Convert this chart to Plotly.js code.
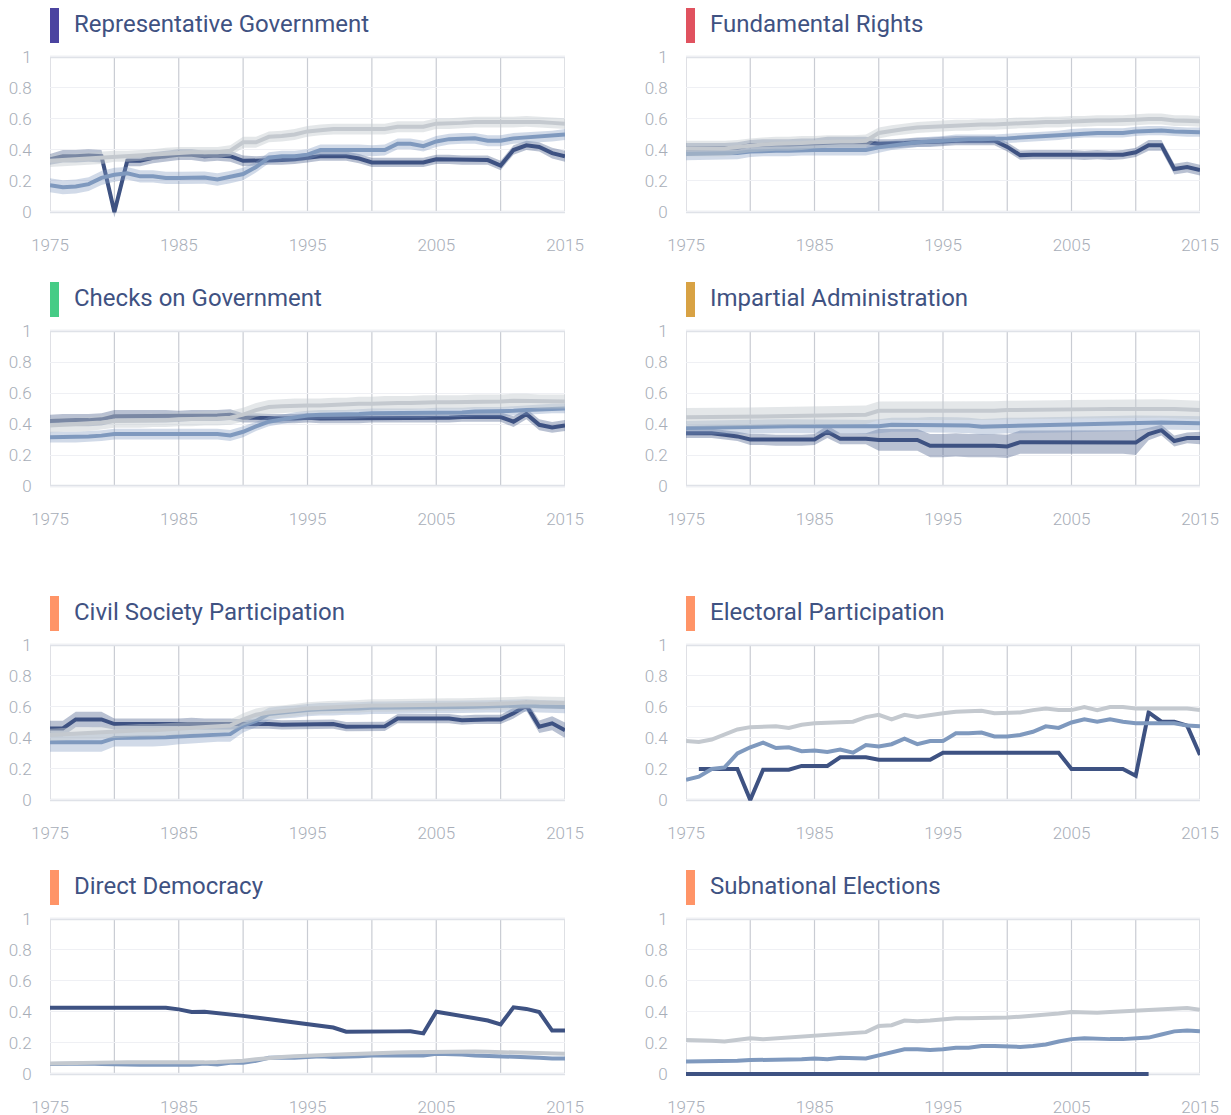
<!DOCTYPE html>
<html><head><meta charset="utf-8">
<script src="https://cdn.plot.ly/plotly-3.0.1.min.js"></script>
<style>html,body{margin:0;padding:0;background:#fff}#chart{width:1231px;height:1115px}</style>
</head><body><div id="chart"></div>
<script>
const years=[1975,1976,1977,1978,1979,1980,1981,1982,1983,1984,1985,1986,1987,1988,1989,1990,1991,1992,1993,1994,1995,1996,1997,1998,1999,2000,2001,2002,2003,2004,2005,2006,2007,2008,2009,2010,2011,2012,2013,2014,2015];
const xTickVals=[1975,1985,1995,2005,2015];
const gridYears=[1975,1980,1985,1990,1995,2000,2005,2010,2015];
const yTickVals=[0,0.2,0.4,0.6,0.8,1];
const yTickText=['0','0.2','0.4','0.6','0.8','1'];
const titles=['Representative Government','Fundamental Rights','Checks on Government','Impartial Administration','Civil Society Participation','Electoral Participation','Direct Democracy','Subnational Elections'];
const titleColors=['#4b44a0','#e0525f','#46cc86','#d8a244','#ff9467','#ff9467','#ff9467','#ff9467'];

// Representative Government
const repC=[.34,.36,.36,.365,.36,.00,.33,.33,.35,.36,.37,.37,.36,.365,.36,.33,.33,.335,.335,.34,.35,.36,.36,.36,.345,.32,.32,.32,.32,.32,.34,.34,.335,.335,.335,.30,.40,.43,.42,.38,.36];
const repR=[.173,.16,.165,.18,.22,.24,.25,.23,.23,.22,.22,.22,.222,.21,.225,.245,.29,.35,.36,.36,.37,.40,.40,.40,.40,.395,.40,.44,.44,.425,.455,.47,.475,.475,.46,.46,.475,.48,.485,.49,.50];
const repW=[.33,.335,.34,.345,.35,.36,.36,.365,.37,.38,.385,.385,.385,.385,.395,.45,.45,.485,.49,.50,.52,.53,.535,.535,.535,.535,.535,.55,.55,.55,.57,.57,.575,.58,.58,.58,.58,.585,.58,.575,.57];
const repCb=[.035,.04,.04,.04,.04,.035,.035,.035,.035,.035,.035,.035,.035,.035,.035,.035,.03,.03,.03,.03,.03,.03,.03,.03,.03,.03,.03,.03,.03,.03,.03,.03,.03,.03,.03,.03,.03,.03,.03,.035,.035];
const repRb=[.045,.045,.045,.045,.045,.045,.04,.04,.04,.04,.04,.04,.04,.04,.04,.04,.035,.035,.035,.035,.035,.035,.035,.035,.035,.035,.035,.035,.035,.035,.035,.035,.035,.035,.035,.035,.035,.035,.035,.035,.035];
const repWb=[.04,.04,.04,.04,.04,.035,.035,.035,.035,.035,.035,.035,.035,.035,.035,.035,.035,.035,.035,.035,.035,.035,.035,.035,.035,.035,.035,.035,.035,.035,.035,.035,.035,.035,.035,.035,.035,.035,.035,.035,.035];

// Fundamental Rights
const frC=[.41,.41,.41,.41,.415,.43,.435,.435,.435,.44,.44,.45,.45,.45,.45,.44,.44,.445,.45,.45,.455,.46,.46,.46,.46,.42,.367,.37,.37,.37,.37,.365,.37,.365,.37,.385,.43,.43,.277,.29,.27];
const frR=[.374,.375,.375,.375,.38,.39,.395,.395,.395,.40,.40,.40,.40,.40,.40,.417,.43,.44,.45,.455,.46,.47,.47,.47,.47,.475,.48,.485,.49,.495,.505,.51,.51,.51,.51,.52,.525,.525,.52,.515,.515];
const frW=[.41,.41,.41,.41,.42,.43,.435,.44,.44,.445,.45,.455,.455,.455,.46,.51,.525,.535,.545,.55,.555,.56,.56,.565,.565,.57,.575,.575,.58,.58,.585,.585,.59,.59,.59,.595,.60,.60,.59,.59,.585];
const frCb=[.035,.035,.035,.035,.035,.035,.035,.035,.035,.035,.035,.035,.035,.035,.035,.03,.03,.03,.03,.03,.03,.03,.03,.03,.03,.03,.03,.03,.03,.03,.03,.03,.03,.03,.03,.03,.035,.035,.035,.035,.035];
const frRb=[.04,.04,.04,.04,.04,.035,.035,.035,.035,.035,.035,.035,.035,.035,.035,.035,.03,.03,.03,.03,.03,.03,.03,.03,.03,.03,.03,.03,.03,.03,.03,.03,.03,.03,.03,.03,.03,.03,.03,.03,.03];
const frWb=[.05,.05,.05,.05,.045,.045,.045,.045,.045,.045,.04,.04,.04,.04,.04,.035,.035,.035,.035,.035,.035,.035,.035,.035,.035,.035,.035,.035,.035,.035,.035,.035,.035,.035,.035,.035,.035,.035,.035,.035,.035];

// Checks on Government
const cgC=[.42,.425,.425,.425,.43,.45,.45,.45,.45,.45,.45,.455,.455,.455,.46,.44,.44,.435,.435,.435,.44,.435,.435,.435,.435,.44,.44,.44,.44,.44,.44,.44,.445,.445,.445,.445,.415,.465,.395,.378,.39];
const cgR=[.315,.315,.315,.32,.325,.335,.335,.335,.333,.333,.333,.335,.335,.335,.326,.35,.385,.415,.43,.445,.455,.46,.46,.46,.465,.47,.47,.47,.47,.47,.475,.475,.475,.48,.48,.48,.485,.49,.495,.50,.50];
const cgW=[.39,.395,.395,.40,.41,.42,.42,.42,.425,.425,.43,.43,.435,.435,.44,.46,.49,.51,.515,.52,.52,.52,.525,.525,.53,.53,.535,.535,.535,.54,.54,.54,.54,.545,.545,.545,.55,.55,.545,.545,.545];
const cgCb=[.04,.04,.04,.04,.04,.04,.04,.04,.04,.04,.035,.035,.035,.035,.035,.03,.03,.03,.03,.03,.03,.03,.03,.03,.03,.03,.03,.03,.03,.03,.03,.03,.03,.03,.03,.03,.035,.035,.035,.035,.035];
const cgRb=[.035,.035,.035,.035,.035,.035,.035,.035,.035,.035,.035,.035,.035,.035,.035,.035,.03,.03,.03,.03,.03,.03,.03,.03,.03,.03,.03,.03,.03,.03,.03,.03,.03,.03,.03,.03,.03,.03,.03,.03,.03];
const cgWb=[.045,.045,.045,.045,.045,.045,.045,.045,.045,.045,.045,.045,.045,.045,.045,.045,.045,.045,.045,.045,.045,.045,.045,.045,.045,.045,.045,.045,.045,.045,.045,.045,.045,.045,.045,.045,.045,.045,.045,.045,.045];

// Impartial Administration
const iaC=[.34,.34,.34,.33,.32,.30,.30,.295,.295,.295,.30,.35,.305,.305,.305,.297,.297,.297,.297,.26,.26,.265,.26,.26,.26,.255,.283,.283,.283,.283,.283,.283,.283,.283,.283,.28,.335,.36,.29,.31,.31];
const iaR=[.374,.376,.378,.38,.382,.385,.385,.385,.385,.385,.385,.385,.385,.383,.38,.385,.395,.395,.395,.395,.395,.393,.39,.383,.385,.39,.39,.392,.394,.396,.40,.402,.402,.403,.404,.405,.41,.41,.408,.406,.405];
const iaW=[.443,.443,.443,.444,.445,.447,.448,.45,.452,.454,.456,.458,.46,.46,.46,.485,.485,.485,.485,.485,.485,.485,.483,.482,.486,.49,.49,.492,.493,.494,.495,.496,.496,.497,.498,.50,.50,.50,.497,.494,.49];
const iaCb=[.03,.03,.03,.03,.03,.035,.035,.035,.035,.035,.035,.04,.035,.035,.035,.07,.07,.07,.07,.075,.075,.075,.075,.075,.075,.075,.075,.075,.075,.075,.075,.075,.075,.075,.075,.08,.04,.035,.035,.035,.04];
const iaRb=[.045,.045,.045,.045,.045,.045,.045,.045,.045,.045,.045,.045,.045,.045,.045,.045,.045,.045,.045,.05,.05,.05,.05,.05,.05,.05,.05,.05,.05,.05,.05,.05,.05,.05,.05,.05,.045,.045,.045,.045,.045];
const iaWb=[.06,.06,.06,.06,.06,.06,.06,.06,.06,.06,.06,.06,.06,.06,.06,.06,.06,.06,.06,.06,.06,.06,.06,.06,.06,.06,.06,.06,.06,.06,.06,.06,.06,.06,.06,.06,.06,.06,.06,.06,.06];

// Civil Society Participation
const csC=[.462,.462,.52,.52,.52,.49,.49,.49,.49,.49,.49,.495,.49,.49,.49,.49,.49,.49,.485,.487,.49,.49,.49,.473,.473,.475,.475,.525,.525,.525,.525,.525,.515,.52,.52,.52,.56,.61,.473,.495,.45];
const csR=[.372,.372,.372,.372,.372,.40,.40,.40,.40,.405,.41,.415,.42,.425,.425,.48,.51,.555,.565,.57,.58,.585,.585,.59,.59,.595,.595,.597,.598,.60,.60,.60,.60,.602,.604,.605,.608,.61,.605,.602,.60];
const csW=[.42,.425,.43,.43,.435,.44,.445,.45,.45,.455,.46,.465,.47,.475,.48,.52,.55,.565,.57,.58,.59,.595,.60,.60,.605,.61,.61,.612,.613,.614,.615,.616,.617,.618,.619,.62,.625,.63,.628,.626,.625];
const csCb=[.05,.05,.05,.05,.05,.035,.035,.035,.035,.035,.035,.035,.035,.035,.035,.03,.03,.03,.03,.03,.03,.03,.03,.03,.03,.03,.03,.03,.03,.03,.03,.03,.03,.03,.03,.03,.035,.035,.04,.045,.05];
const csRb=[.06,.06,.06,.06,.06,.055,.055,.055,.055,.055,.05,.05,.05,.05,.05,.045,.04,.04,.04,.04,.04,.04,.04,.04,.04,.04,.04,.04,.04,.04,.04,.04,.04,.04,.04,.04,.04,.04,.04,.04,.04];
const csWb=[.04,.04,.04,.04,.04,.04,.04,.04,.04,.04,.04,.04,.04,.04,.04,.04,.04,.04,.04,.04,.04,.04,.04,.04,.04,.04,.04,.04,.04,.04,.04,.04,.04,.04,.04,.04,.04,.04,.04,.04,.04];

// Electoral Participation
const epC=[null,.20,.20,.20,.20,.00,.195,.195,.195,.22,.22,.22,.275,.275,.275,.26,.26,.26,.26,.26,.305,.305,.305,.305,.305,.305,.305,.305,.305,.305,.20,.20,.20,.20,.20,.157,.565,.505,.505,.48,.29];
const epR=[.13,.15,.20,.21,.30,.34,.37,.335,.34,.315,.32,.31,.325,.305,.355,.345,.36,.395,.36,.38,.38,.43,.43,.435,.41,.41,.42,.44,.475,.465,.50,.52,.505,.52,.505,.495,.495,.495,.495,.48,.475];
const epW=[.38,.375,.39,.425,.455,.47,.475,.475,.465,.485,.495,.50,.505,.505,.535,.55,.52,.55,.535,.55,.56,.57,.575,.575,.56,.565,.565,.58,.59,.58,.58,.60,.58,.60,.60,.59,.59,.59,.59,.59,.58];

// Direct Democracy
const ddC=[.428,.428,.428,.428,.428,.428,.428,.428,.428,.428,.417,.40,.402,.395,.385,.375,.365,.355,.345,.335,.325,.315,.30,.273,.275,.275,.275,.275,.275,.262,.402,.39,.375,.36,.345,.32,.43,.42,.40,.28,.28];
const ddR=[.065,.066,.07,.068,.065,.062,.062,.06,.06,.059,.058,.06,.068,.062,.072,.072,.085,.105,.107,.105,.11,.115,.11,.11,.115,.12,.12,.12,.12,.12,.13,.13,.125,.12,.118,.115,.113,.11,.105,.10,.10];
const ddW=[.068,.07,.075,.075,.075,.075,.075,.074,.073,.072,.072,.073,.075,.077,.08,.085,.095,.105,.11,.115,.12,.122,.125,.128,.132,.135,.137,.138,.14,.142,.145,.145,.145,.145,.143,.14,.14,.138,.135,.132,.13];

// Subnational Elections
const seC=[0,0,0,0,0,0,0,0,0,0,0,0,0,0,0,0,0,0,0,0,0,0,0,0,0,0,0,0,0,0,0,0,0,0,0,0,0,null,null,null,null];
const seR=[.08,.08,.08,.08,.085,.09,.09,.09,.095,.095,.10,.095,.105,.105,.10,.12,.14,.16,.16,.155,.16,.17,.17,.18,.18,.175,.175,.18,.19,.21,.225,.23,.225,.225,.225,.23,.235,.255,.275,.28,.275];
const seW=[.22,.22,.215,.21,.22,.23,.225,.23,.24,.24,.25,.25,.26,.265,.27,.31,.315,.345,.34,.345,.355,.36,.36,.36,.36,.365,.37,.375,.38,.39,.40,.395,.395,.40,.405,.41,.41,.42,.42,.425,.415];

const panels=[
  {s:[repC,repR,repW],b:[repCb,repRb,repWb]},
  {s:[frC,frR,frW],b:[frCb,frRb,frWb]},
  {s:[cgC,cgR,cgW],b:[cgCb,cgRb,cgWb]},
  {s:[iaC,iaR,iaW],b:[iaCb,iaRb,iaWb]},
  {s:[csC,csR,csW],b:[csCb,csRb,csWb]},
  {s:[epC,epR,epW],b:null},
  {s:[ddC,ddR,ddW],b:null},
  {s:[seC,seR,seW],b:null}
];

const lineColors=['#3e5282','#7f99be','#c4c9cf'];
const bandColors=['rgba(62,82,130,0.36)','rgba(127,153,190,0.36)','rgba(196,201,207,0.45)'];

const W=1231,H=1115;
const colX=[[50,565],[686,1200]];
const rowTop=[57,331,645,919];
const unit=155;
const yLo=-0.04,yHi=1.015;
const titleY=[24,298,612,886];
const barY=[[8,43],[282,317],[596,631],[870,905]];

const traces=[];const layout={width:W,height:H,margin:{l:0,r:0,t:0,b:0},paper_bgcolor:'#fff',plot_bgcolor:'rgba(0,0,0,0)',showlegend:false,shapes:[],annotations:[],hovermode:false};
const tickFont={family:'Roboto, sans-serif',size:17,color:'#a8aeb8',weight:300};

panels.forEach((p,i)=>{
  const col=i%2,row=Math.floor(i/2);
  const n=i+1;const xa='x'+(n===1?'':n),ya='y'+(n===1?'':n);
  const xk='xaxis'+(n===1?'':n),yk='yaxis'+(n===1?'':n);
  const topPx=rowTop[row]-(yHi-1)*unit,botPx=rowTop[row]+unit-yLo*unit;
  layout[xk]={domain:[colX[col][0]/W,colX[col][1]/W],range:[1975,2015],anchor:ya,tickvals:xTickVals,ticktext:xTickVals.map(String),showgrid:false,zeroline:false,showline:false,ticks:'outside',ticklen:11,tickcolor:'rgba(0,0,0,0)',tickfont:tickFont,fixedrange:true};
  layout[yk]={domain:[1-botPx/H,1-topPx/H],range:[yLo,yHi],anchor:xa,tickvals:yTickVals,ticktext:yTickText,showgrid:true,gridcolor:'#eff0f4',gridwidth:1,zeroline:false,showline:false,ticks:'outside',ticklen:14,tickcolor:'rgba(0,0,0,0)',tickfont:tickFont,fixedrange:true};
  gridYears.forEach(g=>layout.shapes.push({type:'line',xref:xa,yref:ya,x0:g,x1:g,y0:0,y1:1,line:{color:'#c9ccd3',width:1.2},layer:'below'}));
  [0,1].forEach(v=>layout.shapes.push({type:'line',xref:xa,yref:ya,x0:1975,x1:2015,y0:v,y1:v,line:{color:'#dfe2e8',width:2.5},layer:'below'}));
  layout.shapes.push({type:'rect',xref:'paper',yref:'paper',x0:colX[col][0]/W,x1:(colX[col][0]+9)/W,y0:1-barY[row][1]/H,y1:1-barY[row][0]/H,fillcolor:titleColors[i],line:{width:0}});
  layout.annotations.push({xref:'paper',yref:'paper',x:(colX[col][0]+22)/W,y:1-titleY[row]/H,xanchor:'left',yanchor:'middle',showarrow:false,text:titles[i],font:{family:'Roboto, sans-serif',size:24,color:'#3f5282',weight:400}});
  p.s.forEach((vals,k)=>{
    if(p.b){
      const hw=p.b[k];
      traces.push({type:'scatter',mode:'lines',x:years,y:vals.map((v,j)=>v==null?null:v+hw[j]),xaxis:xa,yaxis:ya,line:{width:0,color:bandColors[k]},hoverinfo:'skip'});
      traces.push({type:'scatter',mode:'lines',x:years,y:vals.map((v,j)=>v==null?null:v-hw[j]),xaxis:xa,yaxis:ya,line:{width:0,color:bandColors[k]},fill:'tonexty',fillcolor:bandColors[k],hoverinfo:'skip'});
    }
    traces.push({type:'scatter',mode:'lines',x:years,y:vals,xaxis:xa,yaxis:ya,line:{width:4,color:lineColors[k]},connectgaps:false});
  });
});

Plotly.newPlot('chart',traces,layout,{staticPlot:true,displayModeBar:false});
</script></body></html>
